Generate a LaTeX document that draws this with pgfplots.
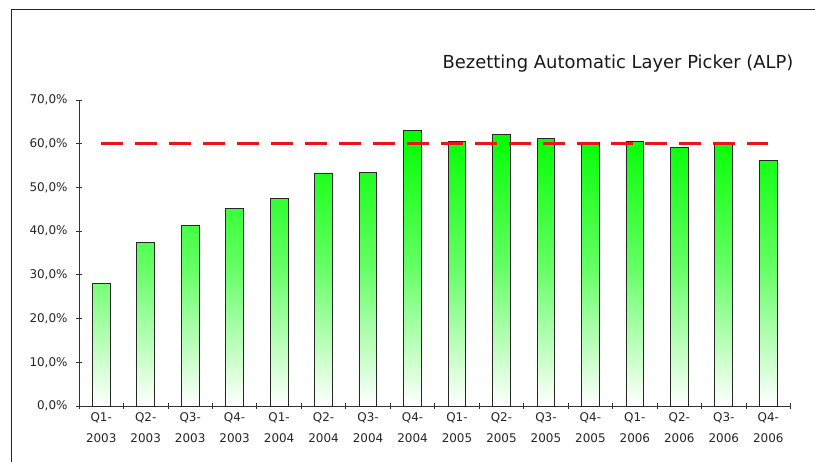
\documentclass[border=0pt]{standalone}
\usepackage{pgfplots}
\pgfplotsset{compat=1.18}
\usepackage{fontspec}
\setmainfont{DejaVu Sans}
\definecolor{barg}{RGB}{0,255,0}
\definecolor{linered}{RGB}{235,20,25}
\begin{document}
\begin{tikzpicture}[x=1bp,y=1bp]
\useasboundingbox (0,0) rectangle (815,462);
\draw[line width=1bp, black!85] (11.5,0) -- (11.5,452) -- (815,452);
\node[anchor=base east, font=\fontsize{18}{21}\selectfont, text=black!90] at (797,393.5) {Bezetting Automatic Layer Picker (ALP)};
\begin{axis}[
  at={(79bp,56bp)}, anchor=south west,
  scale only axis, width=711.5bp, height=306bp,
  xmin=-0.5, xmax=15.5, ymin=0, ymax=70,
  axis x line*=bottom, axis y line*=left,
  axis line style={black!80, line width=0.8bp},
  /pgf/number format/assume math mode=true,
  ytick={0,10,...,70},
  yticklabels={{0,0\%},{10,0\%},{20,0\%},{30,0\%},{40,0\%},{50,0\%},{60,0\%},{70,0\%}},
  xtick={-0.5,0.5,...,15.5},
  xticklabels={},
  extra x ticks={0,1,...,15},
  extra x tick labels={{Q1-\\2003},{Q2-\\2003},{Q3-\\2003},{Q4-\\2003},{Q1-\\2004},{Q2-\\2004},{Q3-\\2004},{Q4-\\2004},{Q1-\\2005},{Q2-\\2005},{Q3-\\2005},{Q4-\\2005},{Q1-\\2006},{Q2-\\2006},{Q3-\\2006},{Q4-\\2006}},
  extra x tick style={major tick length=0pt},
  tick align=center,
  major tick length=6bp,
  tick style={black!80, line width=0.8bp},
  tick label style={font=\fontsize{12}{21.5}\selectfont, text=black!85},
  x tick label style={align=center, yshift=-3bp},
  y tick label style={xshift=-5bp},
  clip=false,
]
\addplot[ybar, bar width=0.4, draw=black!85, line width=0.9bp, top color=barg, bottom color=white, middle color=barg!60!white]
 coordinates {(0,28.0) (1,37.4) (2,41.2) (3,45.1) (4,47.4) (5,53.3) (6,53.5) (7,63.0) (8,60.5) (9,62.2) (10,61.2) (11,60.2) (12,60.5) (13,59.1) (14,60.1) (15,56.1)};
\addplot[linered, line width=3bp, dash pattern=on 21.5bp off 12.5bp]
 coordinates {(0,60) (15,60)};
\end{axis}
\end{tikzpicture}
\end{document}
